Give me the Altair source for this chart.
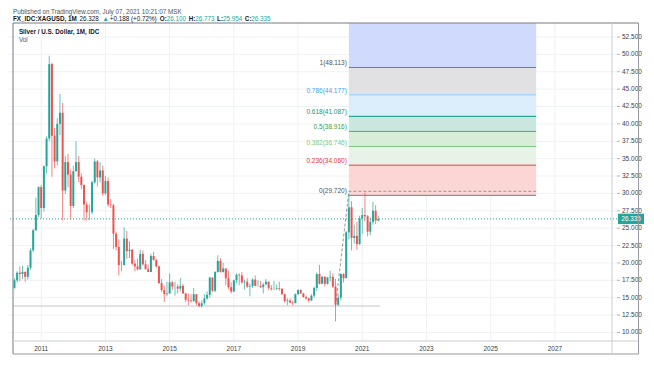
import altair as alt
import pandas as pd

# ---------------- data (monthly XAGUSD candles, Mar 2010 .. Jul 2021) ----------------
first_year, first_month = 2010, 3

opens = [
    16.4, 17.5, 18.6, 18.4, 18.7, 18.0, 19.3, 21.8, 24.7, 26.9,
    30.9, 27.9, 33.9, 37.9, 48.6, 38.3, 34.6, 40.0, 41.6, 30.4, 34.5, 32.7,
    28.2, 33.2, 34.5, 32.4, 31.2, 28.4, 27.3, 27.3, 31.6, 34.6, 32.3, 33.3,
    30.0, 31.8, 28.4, 28.3, 24.2, 22.3, 19.7, 19.7, 23.5, 21.7, 21.9, 19.9,
    19.5, 19.1, 21.3, 19.8, 19.1, 18.7, 21.0, 20.4, 19.5, 17.1, 16.1, 15.5,
    15.6, 17.2, 16.6, 16.6, 16.3, 16.7, 15.6, 14.7, 14.6, 14.5, 15.5, 14.2,
    13.8, 14.2, 14.9, 15.4, 17.9, 16.0, 18.7, 20.3, 18.7, 19.2, 17.8, 16.5,
    15.9, 17.5, 18.3, 18.2, 17.2, 17.3, 16.6, 16.7, 17.6, 16.7, 16.7, 16.5,
    16.9, 17.3, 16.4, 16.3, 16.3, 16.4, 16.3, 15.5, 14.5, 14.6, 14.3, 14.2,
    15.5, 16.1, 15.6, 15.1, 14.9, 14.6, 15.3, 16.4, 18.4, 17.0, 18.0, 17.0,
    17.9, 18.0, 16.6, 14.0, 15.0, 18.4, 17.8, 24.4, 28.0, 23.6, 23.9, 22.7,
    26.4, 26.9, 26.7, 24.5, 25.9, 27.5, 26.100,
]
highs = [
    17.8, 18.8, 19.5, 19.6, 18.8, 19.7, 22.1, 24.9, 29.4, 31.0,
    31.2, 34.0, 38.2, 49.8, 48.8, 39.4, 40.8, 44.3, 43.0, 35.4, 35.7, 33.4,
    34.0, 37.5, 35.4, 32.9, 31.3, 28.8, 28.4, 31.8, 35.0, 34.8, 34.5, 34.0,
    32.5, 32.3, 29.2, 28.5, 24.5, 23.4, 20.3, 25.1, 24.6, 23.1, 22.0, 20.4,
    20.6, 21.9, 21.8, 20.4, 19.8, 21.3, 21.6, 20.6, 19.6, 17.7, 16.7, 17.3,
    18.5, 17.4, 17.3, 16.9, 17.8, 17.0, 15.7, 15.6, 15.5, 16.4, 15.5, 14.5,
    14.6, 15.5, 15.9, 18.0, 17.9, 18.8, 21.1, 20.7, 20.0, 19.2, 18.9, 17.2,
    17.6, 18.5, 18.5, 18.7, 17.6, 17.8, 17.0, 17.8, 18.2, 17.5, 17.4, 17.1,
    17.7, 17.3, 16.8, 17.4, 16.9, 17.3, 16.3, 15.6, 14.9, 14.9, 14.6, 15.6,
    16.2, 16.2, 15.7, 15.3, 15.0, 15.5, 16.6, 18.6, 19.7, 18.1, 18.1, 18.0,
    18.9, 18.5, 17.7, 15.6, 18.5, 18.5, 24.6, 29.9, 28.9, 25.5, 25.9, 26.8,
    27.9, 30.1, 26.9, 26.5, 28.8, 28.3, 26.773,
]
lows = [
    16.3, 17.2, 17.4, 17.7, 17.3, 17.6, 19.0, 21.6, 24.6, 26.6,
    26.4, 27.4, 32.9, 37.5, 32.4, 33.6, 34.0, 38.4, 26.1, 29.9, 30.9, 26.2,
    27.9, 33.1, 31.6, 30.6, 26.1, 26.1, 26.2, 27.0, 31.4, 31.0, 31.6, 29.7,
    29.8, 28.1, 27.9, 22.0, 21.8, 18.2, 18.8, 19.6, 20.6, 20.7, 19.7, 18.8,
    18.9, 19.0, 19.6, 19.1, 18.7, 18.7, 20.4, 19.3, 17.0, 15.8, 14.4, 15.2,
    15.6, 16.1, 15.3, 15.6, 15.9, 15.6, 14.4, 13.9, 14.3, 14.4, 13.9, 13.6,
    13.6, 14.0, 14.7, 15.0, 15.8, 15.8, 18.6, 18.6, 18.6, 16.8, 16.2, 15.6,
    15.8, 17.1, 16.8, 17.0, 16.2, 16.4, 15.2, 16.4, 16.6, 16.6, 16.4, 15.6,
    16.9, 16.1, 16.0, 16.1, 16.1, 16.0, 15.4, 14.3, 13.9, 14.2, 13.9, 14.2,
    15.4, 15.6, 15.0, 14.7, 14.3, 14.5, 15.0, 16.0, 16.9, 17.0, 16.6, 16.9,
    17.4, 16.4, 11.6, 13.8, 14.6, 17.2, 17.8, 23.4, 21.8, 22.8, 21.9, 22.6,
    24.2, 26.0, 23.8, 24.0, 25.5, 25.6, 25.954,
]
closes = [
    17.5, 18.6, 18.4, 18.7, 18.0, 19.3, 21.8, 24.7, 26.9, 30.9,
    27.9, 33.9, 37.9, 48.6, 38.3, 34.6, 40.0, 41.6, 30.4, 34.5, 32.7, 28.2,
    33.2, 34.5, 32.4, 31.2, 28.4, 27.3, 27.3, 31.6, 34.6, 32.3, 33.3, 30.0,
    31.8, 28.4, 28.3, 24.2, 22.3, 19.7, 19.7, 23.5, 21.7, 21.9, 19.9, 19.5,
    19.1, 21.3, 19.8, 19.1, 18.7, 21.0, 20.4, 19.5, 17.1, 16.1, 15.5, 15.6,
    17.2, 16.6, 16.6, 16.3, 16.7, 15.6, 14.7, 14.6, 14.5, 15.5, 14.2, 13.8,
    14.2, 14.9, 15.4, 17.9, 16.0, 18.7, 20.3, 18.7, 19.2, 17.8, 16.5, 15.9,
    17.5, 18.3, 18.2, 17.2, 17.3, 16.6, 16.7, 17.6, 16.7, 16.7, 16.5, 16.9,
    17.3, 16.4, 16.3, 16.3, 16.4, 16.3, 15.5, 14.5, 14.6, 14.3, 14.2, 15.5,
    16.1, 15.6, 15.1, 14.9, 14.6, 15.3, 16.4, 18.4, 17.0, 18.0, 17.0, 17.9,
    18.0, 16.6, 14.0, 15.0, 18.4, 17.8, 24.4, 28.0, 23.6, 23.9, 22.7, 26.4,
    26.9, 26.7, 24.5, 25.9, 27.5, 26.1, 26.335,
]

# Fibonacci retracement drawing
fib_levels = ["1.618", "1", "0.786", "0.618", "0.5", "0.382", "0.236", "0"]
fib_prices = [59.480, 48.113, 44.177, 41.087, 38.916, 36.746, 34.060, 29.720]
fib_from, fib_to = 2020.583, 2026.417

# other drawings
support_price = 13.8
support_from, support_to = 2010.121, 2021.56
trend_t = [2020.167, 2020.583, 2026.417]
trend_p = [13.8, 30.3, 30.3]
last_price = 26.335

year_ticks = [2011, 2013, 2015, 2017, 2019, 2021, 2023, 2025, 2027]
year_labels = ["2011", "2013", "2015", "2017", "2019", "2021", "2023", "2025", "2027"]
price_ticks = [10.0, 12.5, 15.0, 17.5, 20.0, 22.5, 25.0, 27.5, 30.0, 32.5,
               35.0, 37.5, 40.0, 42.5, 45.0, 47.5, 50.0, 52.5]
price_labels = ["10.000", "12.500", "15.000", "17.500", "20.000", "22.500", "25.000",
                "27.500", "30.000", "32.500", "35.000", "37.500", "40.000", "42.500",
                "45.000", "47.500", "50.000", "52.500"]

# ---------------- styling ----------------
UP, DOWN = "#26a69a", "#ef5350"
FONT = "Liberation Sans"
W, H = 609, 318          # plot area
TOP, BOT = 15, 14        # room for header / time-axis band
RIGHT = 28               # price-axis band  (total 637 x 347)
X0, X1 = 2010.121, 2028.779
Y0, Y1 = 8.77, 54.51
band_colors = ["#cfdafd", "#e1e1e3", "#dcedfc", "#cae7df", "#d7edd7", "#e7f3e7", "#fcd5d5"]
line_colors = ["#787b86", "#90caf9", "#089981", "#4caf50", "#81c784", "#f23645", "#787b86"]
label_colors = ["#50535e", "#42a5f5", "#089981", "#43a047", "#81c784", "#f23645", "#50535e"]
GRID = "#eef1f6"
TXT = "#3c3f48"

xs = alt.Scale(domain=[X0, X1], nice=False, zero=False)
ys = alt.Scale(domain=[Y0, Y1], nice=False, zero=False)


def X(f):
    return alt.X(f, scale=xs, axis=None)


def Y(f):
    return alt.Y(f, scale=ys, axis=None)


def xd(px):
    """pixel offset inside the plot -> value on the time scale"""
    return X0 + px / W * (X1 - X0)


def yd(py):
    """pixel offset inside the plot -> value on the price scale"""
    return Y1 - py / H * (Y1 - Y0)


# ---- grid + axis labels ----
yt = pd.DataFrame({"p": price_ticks, "lab": price_labels})
xt = pd.DataFrame({"t": year_ticks, "lab": year_labels})
hgrid = alt.Chart(yt).mark_rule(color=GRID, strokeWidth=1).encode(y=Y("p:Q"))
vgrid = alt.Chart(xt).mark_rule(color=GRID, strokeWidth=1).encode(x=X("t:Q"))
yticks = alt.Chart(yt).mark_rule(color="#b2b5be", strokeWidth=1).encode(
    x=alt.value(W), x2=alt.value(W + 3), y=Y("p:Q"))
ylabels = alt.Chart(yt).mark_text(align="left", baseline="middle", fontSize=6.5, font=FONT,
                                  color=TXT).encode(x=alt.value(W + 5), y=Y("p:Q"), text="lab:N")
xlabels = alt.Chart(xt).mark_text(align="center", baseline="middle", fontSize=6.5, font=FONT,
                                  color=TXT).encode(x=X("t:Q"), y=alt.value(H + 7.5), text="lab:N")

# ---- candles ----
n = len(opens)
t = [first_year + (first_month - 1 + i) / 12 for i in range(n)]
df = pd.DataFrame({"t": t, "o": opens, "h": highs, "l": lows, "c": closes})
df["col"] = [UP if c >= o else DOWN for o, c in zip(opens, closes)]

wicks = alt.Chart(df).mark_rule(strokeWidth=1, opacity=0.7).encode(
    x=X("t:Q"), y=Y("l:Q"), y2="h:Q", color=alt.Color("col:N", scale=None))
bodies = alt.Chart(df).mark_bar(size=2).encode(
    x=X("t:Q"), y=Y("o:Q"), y2="c:Q", color=alt.Color("col:N", scale=None))

# ---- fib drawing ----
bands = pd.DataFrame({
    "x0": [fib_from] * 7, "x1": [fib_to] * 7,
    "hi": fib_prices[:-1], "lo": fib_prices[1:], "col": band_colors,
})
fib_fill = alt.Chart(bands).mark_rect(clip=True).encode(
    x=X("x0:Q"), x2="x1:Q", y=Y("lo:Q"), y2="hi:Q", color=alt.Color("col:N", scale=None))
lv = pd.DataFrame({
    "x0": [fib_from] * 7, "x1": [fib_to] * 7,
    "p": fib_prices[1:],
    "lab": [f"{l}({p:.3f})" for l, p in zip(fib_levels[1:], fib_prices[1:])],
    "col": line_colors, "lcol": label_colors,
})
fib_lines = alt.Chart(lv).mark_rule(strokeWidth=1).encode(
    x=X("x0:Q"), x2="x1:Q", y=Y("p:Q"), color=alt.Color("col:N", scale=None))
fib_labels = alt.Chart(lv).mark_text(align="right", baseline="middle", dx=-2, dy=-4,
                                     fontSize=6.5, font=FONT).encode(
    x=X("x0:Q"), y=Y("p:Q"), text="lab:N", color=alt.Color("lcol:N", scale=None))

trend = alt.Chart(pd.DataFrame({"t": trend_t, "p": trend_p, "k": range(3)})).mark_line(
    strokeDash=[3, 2], strokeWidth=1, color="#9598a1").encode(
    x=X("t:Q"), y=Y("p:Q"), order="k:Q")

support = alt.Chart(pd.DataFrame({"a": [support_from], "b": [support_to], "p": [support_price]})).mark_rule(
    color="#c3c6ce", strokeWidth=1).encode(x=X("a:Q"), x2="b:Q", y=Y("p:Q"))

lastdf = pd.DataFrame({"p": [last_price], "lab": [f"{last_price:.3f}"]})
last_line = alt.Chart(lastdf).mark_rule(strokeDash=[1, 2], color=UP, strokeWidth=1).encode(y=Y("p:Q"))
tag = alt.Chart(lastdf).transform_calculate(lo="datum.p - 0.75", hi="datum.p + 0.75").mark_rect(
    color=UP).encode(x=alt.value(W + 1), x2=alt.value(W + 27), y=Y("lo:Q"), y2="hi:Q")
tag_text = alt.Chart(lastdf).mark_text(color="white", fontSize=6.3, font=FONT, align="center",
                                       baseline="middle").encode(
    x=alt.value(W + 14), y=Y("p:Q"), text="lab:N")

# ---- frame lines (given in pixels, mapped onto the scales) ----
RB, BB = W + RIGHT - 1, H + BOT - 1
fr_px = [(0, RB, 0, 0), (0, 0, 0, BB), (RB, RB, 0, BB), (0, RB, BB, BB),
         (W, W, 0, BB), (0, RB, H, H)]
fr_col = ["#787b86", "#787b86", "#9598a1", "#9598a1", "#c9ccd4", "#c9ccd4"]
frame = pd.DataFrame({
    "x": [xd(a) for a, b, c, d in fr_px], "x2": [xd(b) for a, b, c, d in fr_px],
    "y": [yd(c) for a, b, c, d in fr_px], "y2": [yd(d) for a, b, c, d in fr_px],
    "c": fr_col,
})
frame_l = alt.Chart(frame).mark_rule(strokeWidth=1).encode(
    x=X("x:Q"), x2="x2:Q", y=Y("y:Q"), y2="y2:Q", color=alt.Color("c:N", scale=None))

# ---- header texts ----
AR = {" ": 278, ",": 278, ".": 278, ":": 278, "+": 584, "(": 333, ")": 333, "%": 889,
      "_": 556, "A": 667, "C": 722, "D": 722, "F": 611, "G": 778, "H": 722, "I": 278,
      "L": 556, "M": 833, "O": 778, "S": 667, "U": 722, "X": 667, "\u25b2": 700}
ARB = dict(AR, **{":": 333, "A": 722, "L": 611})


def tw(s, size, bold=False):
    tab = ARB if bold else AR
    return sum(tab.get(ch, 556) for ch in s) * size / 1000.0


HS = 6.3
segs = [
    ("FX_IDC:XAGUSD, 1M", True, "#131722", 4), ("26.328", False, "#131722", 4),
    ("\u25b2", False, UP, 3), ("+0.188 (+0.72%)", False, "#131722", 4),
    ("O:", True, "#131722", 0), ("26.100", False, UP, 3), ("H:", True, "#131722", 0),
    ("26.773", False, UP, 3), ("L:", True, "#131722", 0), ("25.954", False, UP, 3),
    ("C:", True, "#131722", 0), ("26.335", False, UP, 0),
]
rows = []
cx = 0.0
for s, b, c, gap in segs:
    rows.append({"txt": s, "px": cx, "py": -4.5, "col": c, "b": b})
    cx += tw(s, HS, b) + gap
rows.append({"txt": "Published on TradingView.com, July 07, 2021 10:21:07 MSK", "px": 0.0, "py": -11.5,
             "col": "#50535e", "b": False})
rows.append({"txt": "Silver / U.S. Dollar, 1M, IDC", "px": 6.0, "py": 8.5, "col": "#131722", "b": True})
rows.append({"txt": "Vol", "px": 6.0, "py": 16.5, "col": "#50535e", "b": False})
hdr = pd.DataFrame(rows)
hdr["x"] = [xd(v) for v in hdr["px"]]
hdr["y"] = [yd(v) for v in hdr["py"]]

hdr_norm = alt.Chart(hdr).transform_filter("!datum.b").mark_text(
    align="left", baseline="middle", fontSize=HS, font=FONT).encode(
    x=X("x:Q"), y=Y("y:Q"), text="txt:N", color=alt.Color("col:N", scale=None))
hdr_bold = alt.Chart(hdr).transform_filter("datum.b").mark_text(
    align="left", baseline="middle", fontSize=HS, font=FONT, fontWeight="bold").encode(
    x=X("x:Q"), y=Y("y:Q"), text="txt:N", color=alt.Color("col:N", scale=None))

chart = alt.layer(
    hgrid, vgrid, fib_fill, fib_lines, fib_labels, trend, support, last_line, wicks, bodies,
    yticks, ylabels, xlabels, tag, tag_text, frame_l, hdr_norm, hdr_bold,
).properties(
    width=W, height=H,
    autosize=alt.AutoSizeParams(type="none"),
    padding={"left": 0, "top": TOP, "right": RIGHT, "bottom": BOT},
    background="white",
).configure(font=FONT, view=alt.ViewConfig(stroke=None))

chart.save("out.html", embed_options={"renderer": "svg", "actions": False})
